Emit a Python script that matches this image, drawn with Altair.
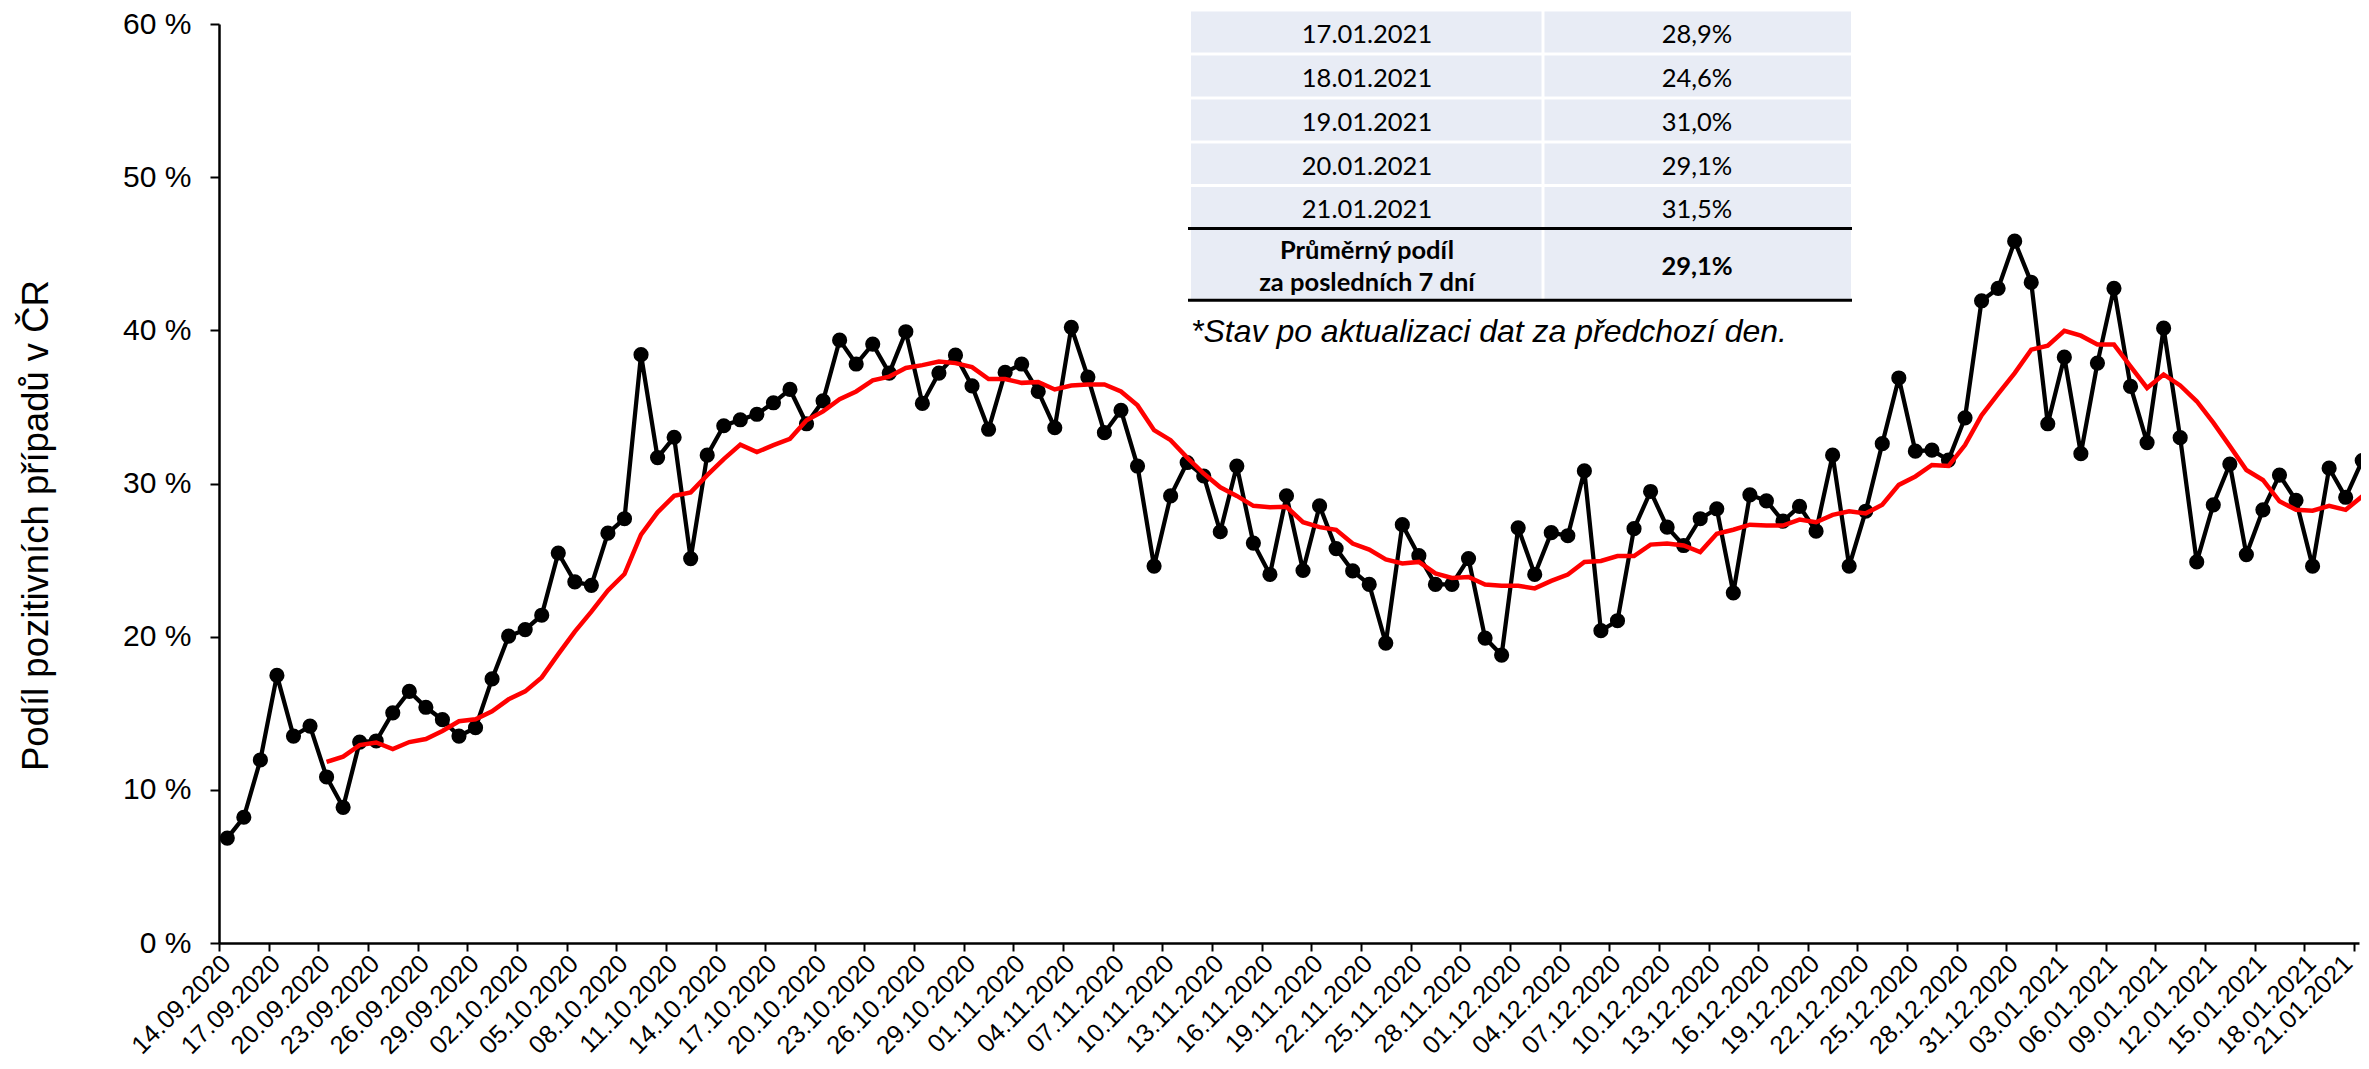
import altair as alt
import pandas as pd

# ---------------- data ----------------
start = pd.Timestamp("2020-09-14")
N_DAYS = 130
dates = [(start + pd.Timedelta(days=i)).strftime("%d.%m.%Y") for i in range(N_DAYS)]

# daily share of positive tests (%), 14.09.2020 - 21.01.2021
positivity = [
    6.85, 8.21, 11.95, 17.47, 13.51, 14.16, 10.84, 8.86, 13.12, 13.19,
    15.03, 16.43, 15.39, 14.58, 13.51, 14.06, 17.24, 20.03, 20.46, 21.40,
    25.46, 23.58, 23.35, 26.76, 27.70, 38.41, 31.69, 33.02, 25.10, 31.85,
    33.77, 34.16, 34.52, 35.27, 36.14, 33.90, 35.40, 39.36, 37.80, 39.10,
    37.21, 39.91, 35.23, 37.21, 38.38, 36.37, 33.54, 37.25, 37.80, 36.01,
    33.64, 40.20, 36.95, 33.32, 34.78, 31.14, 24.61, 29.19, 31.37, 30.49,
    26.85, 31.14, 26.11, 24.06, 29.20, 24.32, 28.54, 25.75, 24.29, 23.41,
    19.58, 27.31, 25.29, 23.41, 23.41, 25.10, 19.91, 18.80, 27.11, 24.06,
    26.79, 26.59, 30.82, 20.39, 21.04, 27.05, 29.48, 27.15, 25.95, 27.70,
    28.35, 22.86, 29.26, 28.87, 27.54, 28.51, 26.89, 31.85, 24.61, 28.19,
    32.60, 36.89, 32.11, 32.18, 31.53, 34.29, 41.93, 42.74, 45.82, 43.13,
    33.90, 38.25, 31.95, 37.86, 42.74, 36.34, 32.67, 40.14, 32.99, 24.88,
    28.61, 31.27, 25.36, 28.28, 30.55, 28.90, 24.60, 31.00, 29.10, 31.50,
]

# 7-day average (%), from 20.09.2020
AVG_START = 6
avg7 = [
    11.82, 12.17, 12.92, 13.09, 12.66, 13.12, 13.32, 13.84, 14.48, 14.61,
    15.13, 15.91, 16.43, 17.34, 18.86, 20.33, 21.63, 23.02, 24.09, 26.66,
    28.12, 29.19, 29.42, 30.55, 31.59, 32.54, 32.05, 32.50, 32.92, 34.13,
    34.71, 35.50, 36.01, 36.73, 36.98, 37.54, 37.73, 37.96, 37.86, 37.60,
    36.82, 36.82, 36.57, 36.63, 36.14, 36.40, 36.47, 36.47, 36.01, 35.10,
    33.48, 32.83, 31.69, 30.65, 29.75, 29.19, 28.54, 28.45, 28.48, 27.47,
    27.15, 26.98, 26.08, 25.69, 25.04, 24.78, 24.88, 24.13, 23.83, 23.90,
    23.41, 23.32, 23.32, 23.15, 23.64, 24.06, 24.88, 24.94, 25.26, 25.26,
    26.01, 26.08, 25.95, 25.52, 26.72, 26.98, 27.31, 27.25, 27.25, 27.64,
    27.47, 27.95, 28.19, 28.05, 28.61, 29.91, 30.46, 31.21, 31.14, 32.51,
    34.45, 35.85, 37.21, 38.74, 39.00, 39.97, 39.65, 39.07, 39.07, 37.64,
    36.24, 37.12, 36.40, 35.37, 33.97, 32.44, 30.88, 30.23, 28.84, 28.28,
    28.22, 28.54, 28.28, 29.16,
]

tick_idx = list(range(0, N_DAYS, 3))
tick_labels = [dates[i] for i in tick_idx]
y_ticks = [0, 10, 20, 30, 40, 50, 60]

table_dates = ["17.01.2021", "18.01.2021", "19.01.2021", "20.01.2021", "21.01.2021"]
table_values = ["28,9%", "24,6%", "31,0%", "29,1%", "31,5%"]
summary_label = ["Průměrný podíl", "za posledních 7 dní"]
summary_value = "29,1%"
footnote = "*Stav po aktualizaci dat za předchozí den."

y_title = "Podíl pozitivních případů v ČR"

# ---------------- layout ----------------
W, H = 2140, 919
PX_PER_DAY = 16.55
X_DOMAIN_MAX = W / PX_PER_DAY

df = pd.DataFrame({"idx": list(range(N_DAYS)), "date": dates, "value": positivity})
df_avg = pd.DataFrame({"idx": list(range(AVG_START, N_DAYS)), "date": dates[AVG_START:], "value": avg7})

label_expr = "[" + ",".join("'" + t + "'" for t in tick_labels) + "][round(datum.value / 3)]"
last_tick = tick_idx[-1]

x_enc = alt.X(
    "pos:Q",
    scale=alt.Scale(domain=[0, X_DOMAIN_MAX], nice=False, zero=False),
    axis=alt.Axis(
        values=tick_idx, labelExpr=label_expr, labelAngle=315, labelAlign="right",
        labelBaseline="middle", labelFont="Liberation Sans", labelFontSize=25.5,
        labelColor="#000000", labelPadding=8,
        labelOffset=alt.condition(f"datum.value == {last_tick}", alt.value(-6), alt.value(7)),
        labelOverlap=False, labelFlush=False, tickSize=8, tickWidth=2,
        tickColor="#000000", domainColor="#000000", domainWidth=2.5, grid=False,
        title=None,
    ),
)
y_enc = alt.Y(
    "value:Q",
    scale=alt.Scale(domain=[0, 60], nice=False),
    axis=alt.Axis(
        values=y_ticks, labelExpr="datum.value + ' %'", labelFont="Liberation Sans",
        labelFontSize=30, labelColor="#000000", labelPadding=19, tickSize=9,
        tickWidth=2, tickColor="#000000", domainColor="#000000", domainWidth=2.5,
        grid=False, title=y_title, titleFont="Liberation Sans", titleFontSize=36.5,
        titleFontWeight="normal", titleColor="#000000", titleAngle=270,
        titleX=-172, titleY=501, titleAlign="center", titleBaseline="alphabetic",
    ),
)

base = alt.Chart(df).transform_calculate(pos="datum.idx + 0.5")
black_line = base.mark_line(color="#000000", strokeWidth=4.25).encode(x=x_enc, y=y_enc)
black_pts = base.mark_circle(color="#000000", size=230, opacity=1).encode(x=x_enc, y=y_enc)
red_line = (
    alt.Chart(df_avg)
    .transform_calculate(pos="datum.idx + 0.5")
    .mark_line(color="#FF0000", strokeWidth=4.5)
    .encode(x=x_enc, y=y_enc)
)
main = alt.layer(black_line, black_pts, red_line)

# ---------------- table (pixel scales, plot coordinates) ----------------
px = alt.Scale(domain=[0, W], range=[0, W], nice=False, zero=False)
py = alt.Scale(domain=[0, H], range=[0, H], nice=False, zero=False)

T_LEFT, T_DIV, T_RIGHT = 972, 1324, 1632
row_b = [-14, 30, 74, 118, 161.5, 204.5]
sum_top, sum_bot = 204.6, 276.3
col_c = [(T_LEFT + T_DIV) / 2, (T_DIV + T_RIGHT) / 2]

cells = []
for r in range(len(table_dates)):
    y0 = row_b[r] + 1.5
    y1 = row_b[r + 1] - (1.5 if r < len(table_dates) - 1 else 0)
    cells.append({"x": T_LEFT, "x2": T_DIV - 1.5, "y": y0, "y2": y1})
    cells.append({"x": T_DIV + 1.5, "x2": T_RIGHT, "y": y0, "y2": y1})
cells.append({"x": T_LEFT, "x2": T_DIV - 1.5, "y": sum_top, "y2": sum_bot})
cells.append({"x": T_DIV + 1.5, "x2": T_RIGHT, "y": sum_top, "y2": sum_bot})
cells_df = pd.DataFrame(cells)

norm_txt = []
for r, (d, v) in enumerate(zip(table_dates, table_values)):
    bl = (row_b[r] + row_b[r + 1]) / 2 + 11
    norm_txt.append({"x": col_c[0], "y": bl, "text": d})
    norm_txt.append({"x": col_c[1], "y": bl, "text": v})
norm_df = pd.DataFrame(norm_txt)

bold_df = pd.DataFrame([
    {"x": col_c[0], "y": 234.5, "text": summary_label[0]},
    {"x": col_c[0], "y": 267.0, "text": summary_label[1]},
    {"x": col_c[1], "y": 251.3, "text": summary_value},
])

rules_df = pd.DataFrame([
    {"x": 969, "x2": 1633, "y": sum_top},
    {"x": 969, "x2": 1633, "y": sum_bot},
])
foot_df = pd.DataFrame([{"x": T_LEFT, "y": 317.5, "text": footnote}])

tx = lambda f="x": alt.X(f + ":Q", scale=px, axis=None)
ty = lambda f="y": alt.Y(f + ":Q", scale=py, axis=None)

cell_layer = alt.Chart(cells_df).mark_rect(color="#E8ECF5").encode(
    x=tx(), x2="x2:Q", y=ty(), y2="y2:Q")
norm_layer = alt.Chart(norm_df).mark_text(
    font="Lato", fontSize=25.5, color="#000000", align="center", baseline="alphabetic"
).encode(x=tx(), y=ty(), text="text:N")
bold_layer = alt.Chart(bold_df).mark_text(
    font="Lato", fontSize=25.5, fontWeight="bold", color="#000000", align="center",
    baseline="alphabetic"
).encode(x=tx(), y=ty(), text="text:N")
rule_layer = alt.Chart(rules_df).mark_rule(color="#000000", strokeWidth=3).encode(
    x=tx(), x2="x2:Q", y=ty())
foot_layer = alt.Chart(foot_df).mark_text(
    font="Liberation Sans", fontSize=32, fontStyle="italic", color="#000000",
    align="left", baseline="alphabetic"
).encode(x=tx(), y=ty(), text="text:N")

table = alt.layer(cell_layer, norm_layer, bold_layer, rule_layer, foot_layer)

chart = (
    alt.layer(main, table)
    .resolve_scale(x="independent", y="independent")
    .properties(
        width=W, height=H,
        autosize=alt.AutoSizeParams(type="none"),
        padding={"left": 211, "top": 16, "right": 2, "bottom": 118},
        background="#FFFFFF",
    )
    .configure_view(stroke=None)
)

chart.save("out.html", embed_options={"renderer": "svg", "actions": False})
